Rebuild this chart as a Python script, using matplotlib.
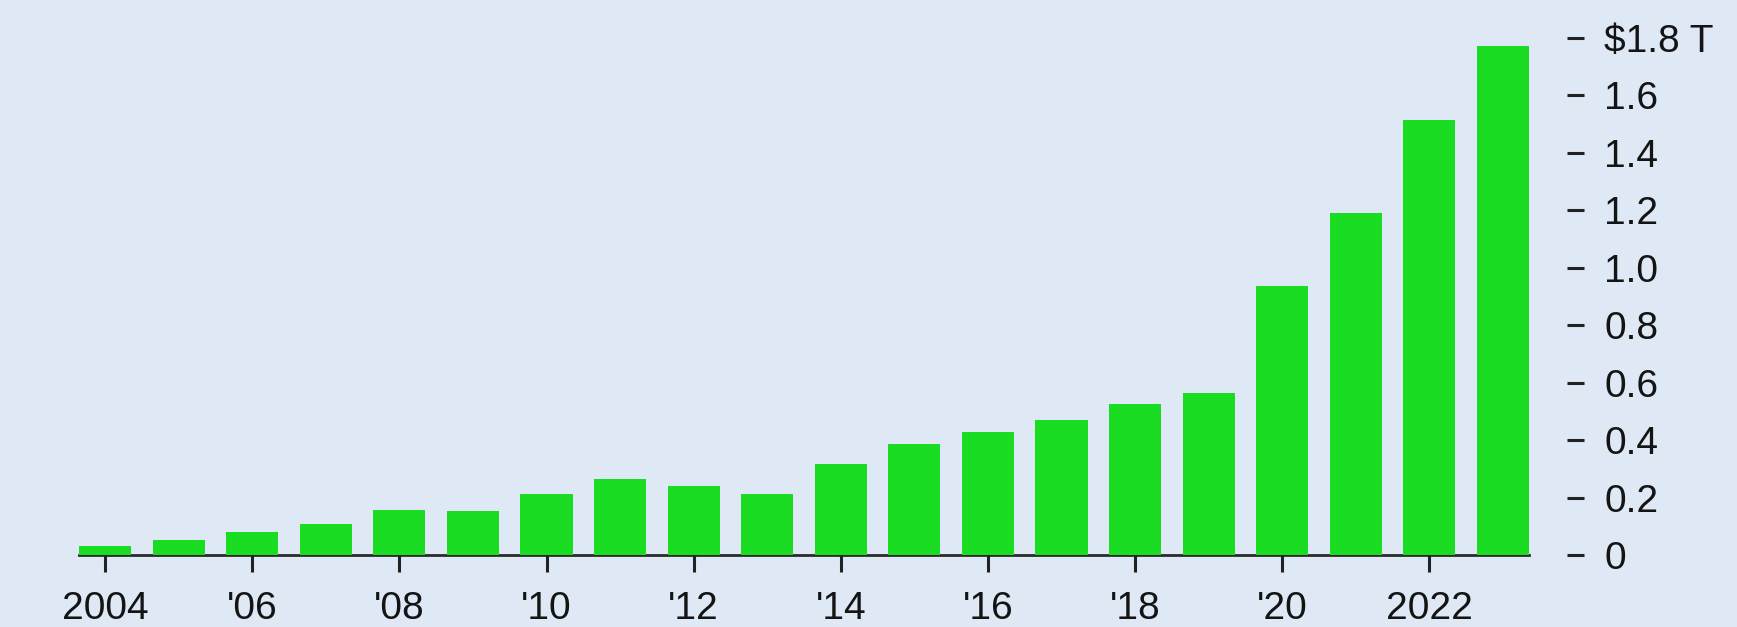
import numpy as np
import matplotlib.pyplot as plt

years = np.arange(2004, 2024)
values = [0.033, 0.051, 0.081, 0.109, 0.157, 0.152, 0.213, 0.266, 0.239, 0.212,
          0.315, 0.387, 0.429, 0.469, 0.526, 0.564, 0.935, 1.191, 1.513, 1.770]
xtick_years = [2004, 2006, 2008, 2010, 2012, 2014, 2016, 2018, 2020, 2022]
xtick_labels = ["2004", "'06", "'08", "'10", "'12", "'14", "'16", "'18", "'20", "2022"]
ytick_vals = [0, 0.2, 0.4, 0.6, 0.8, 1.0, 1.2, 1.4, 1.6, 1.8]
ytick_labels = ["0", "0.2", "0.4", "0.6", "0.8", "1.0", "1.2", "1.4", "1.6", "$1.8 T"]

bg = "#dee9f5"
green = "#1adc22"
dark = "#2b2b2b"

plt.rcParams['font.family'] = ['Liberation Sans', 'DejaVu Sans']

fig = plt.figure(figsize=(17.37, 6.27), dpi=100, facecolor=bg)
ax = fig.add_axes([79/1737, 72/627, (1529-79)/1737, (555.5-38.3)/627])
ax.set_facecolor(bg)

ax.bar(years, values, width=0.71, color=green, zorder=2)

ax.set_xlim(2004-0.355, 2023+0.355)
ax.set_ylim(0, 1.8)

for s in ['top', 'left']:
    ax.spines[s].set_visible(False)
ax.spines['bottom'].set_color(dark)
ax.spines['bottom'].set_linewidth(2)
ax.spines['bottom'].set_zorder(1)

# y axis on the right, ticks pushed out from the bars
ax.yaxis.tick_right()
ax.spines['right'].set_position(('outward', 27))
ax.spines['right'].set_visible(False)
ax.set_yticks(ytick_vals)
ax.set_yticklabels(ytick_labels)
ax.tick_params(axis='y', length=12, width=2.2, color='#222222', pad=15,
               labelsize=28, labelcolor='#141414')

ax.set_xticks(xtick_years)
ax.set_xticklabels(xtick_labels)
ax.tick_params(axis='x', length=12, width=2.2, color='#222222', pad=14,
               labelsize=28, labelcolor='#141414')

fig.savefig("out.png", dpi=100, facecolor=bg)
